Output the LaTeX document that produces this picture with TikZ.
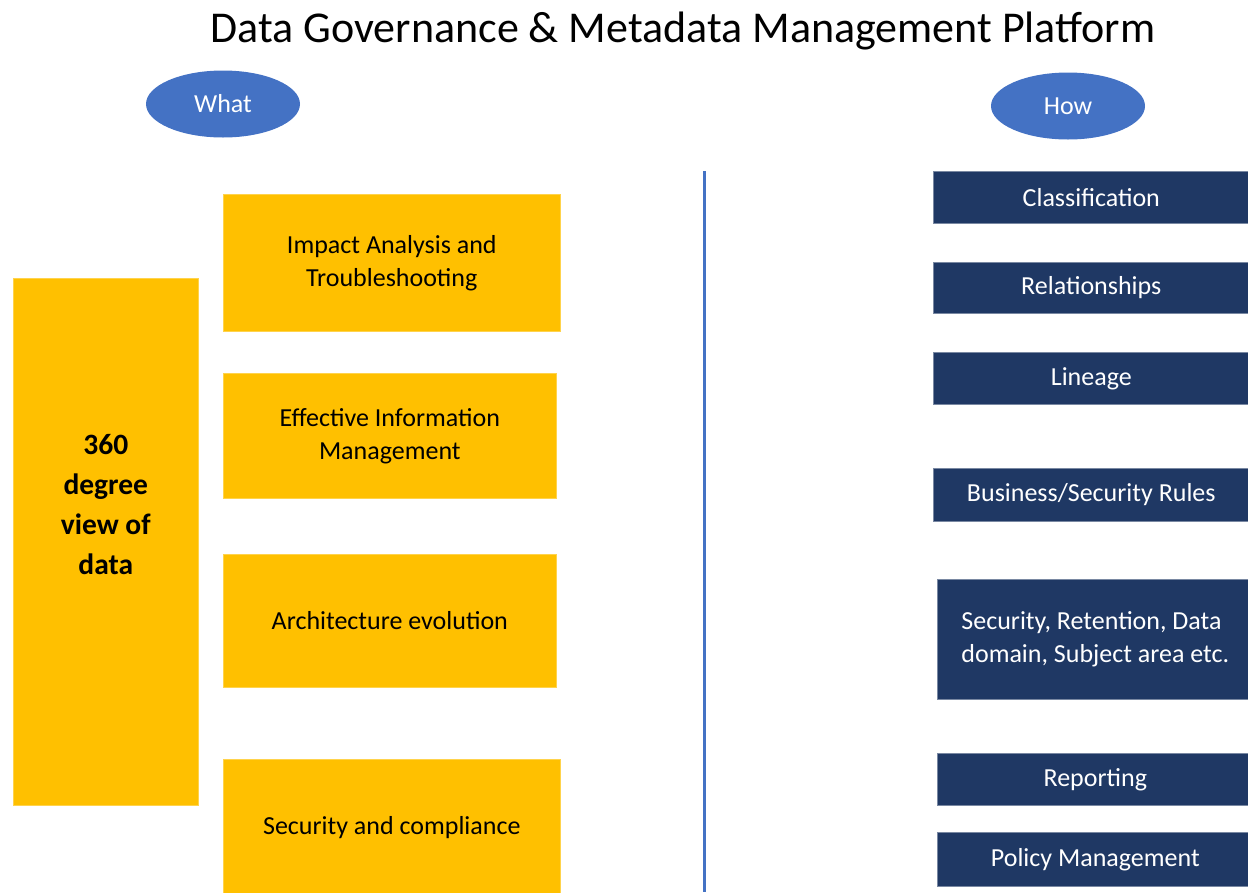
\documentclass[tikz,border=0pt]{standalone}
\usepackage{fontspec}
\setmainfont{Carlito}
\usepackage{xcolor}
\usetikzlibrary{shapes,positioning,calc}
\definecolor{whatcolor}{RGB}{255,192,0}
\definecolor{howcolor}{RGB}{31,56,100}
\definecolor{headcolor}{RGB}{68,114,196}

\begin{document}
\begin{tikzpicture}[
    x=1pt, y=-1pt,
    every node/.style={font=\fontsize{26}{33}\selectfont},
    header/.style={ellipse, fill=headcolor, text=white, minimum width=154pt, minimum height=67pt, inner sep=0pt},
    what/.style={rectangle, fill=whatcolor, draw=whatcolor!70!white, line width=0.6pt, anchor=north west, align=center, inner sep=0pt},
    how/.style={rectangle, fill=howcolor, draw=howcolor!60!white, line width=0.6pt, text=white, anchor=north west, align=center, inner sep=0pt, minimum width=316pt},
    divider/.style={draw=headcolor, line width=3pt}
]

% Canvas
\useasboundingbox (0,0) rectangle (1248,892);

% Title
\node[font=\fontsize{44}{52}\selectfont] (title) at (683,31) {Data Governance \& Metadata Management Platform};

% Column headers
\node[header] (what) at (223,104) {What};
\node[header] (how) at (1068,106) {How};

% Left column - what
\node[what, minimum width=185pt, minimum height=527pt,
      label={[font=\fontsize{29.5}{40}\selectfont\bfseries, align=center, yshift=37pt]center:{360\\degree\\view of\\data}}]
      (view) at (13,278) {};
\node[what, minimum width=337pt, minimum height=137pt] (impact) at (223,194) {Impact Analysis and\\Troubleshooting};
\node[what, minimum width=333pt, minimum height=125pt] (info) at (223,373) {Effective Information\\Management};
\node[what, minimum width=333pt, minimum height=133pt] (arch) at (223,554) {Architecture evolution};
\node[what, minimum width=337pt, minimum height=136pt] (secure) at (223,759) {Security and compliance};

% Divider between the two columns
\coordinate (divtop) at (704,171);
\coordinate (divbot) at (704,892);
\draw[divider] (divtop) -- (divbot);

% Right column - how
\node[how, minimum height=52pt] (classif) at (933,171) {Classification};
\node[how, minimum height=51pt] (relation) at (933,262) {Relationships};
\node[how, minimum height=52pt] (lineage) at (933,352) {Lineage};
\node[how, minimum height=53pt] (rules) at (933,468) {Business/Security Rules};
\node[how, minimum height=120pt, align=left] (retention) at (937,579) {Security, Retention, Data\\domain, Subject area etc.};
\node[how, minimum height=52pt] (report) at (937,753) {Reporting};
\node[how, minimum height=54pt] (policy) at (937,832) {Policy Management};

\end{tikzpicture}
\end{document}
